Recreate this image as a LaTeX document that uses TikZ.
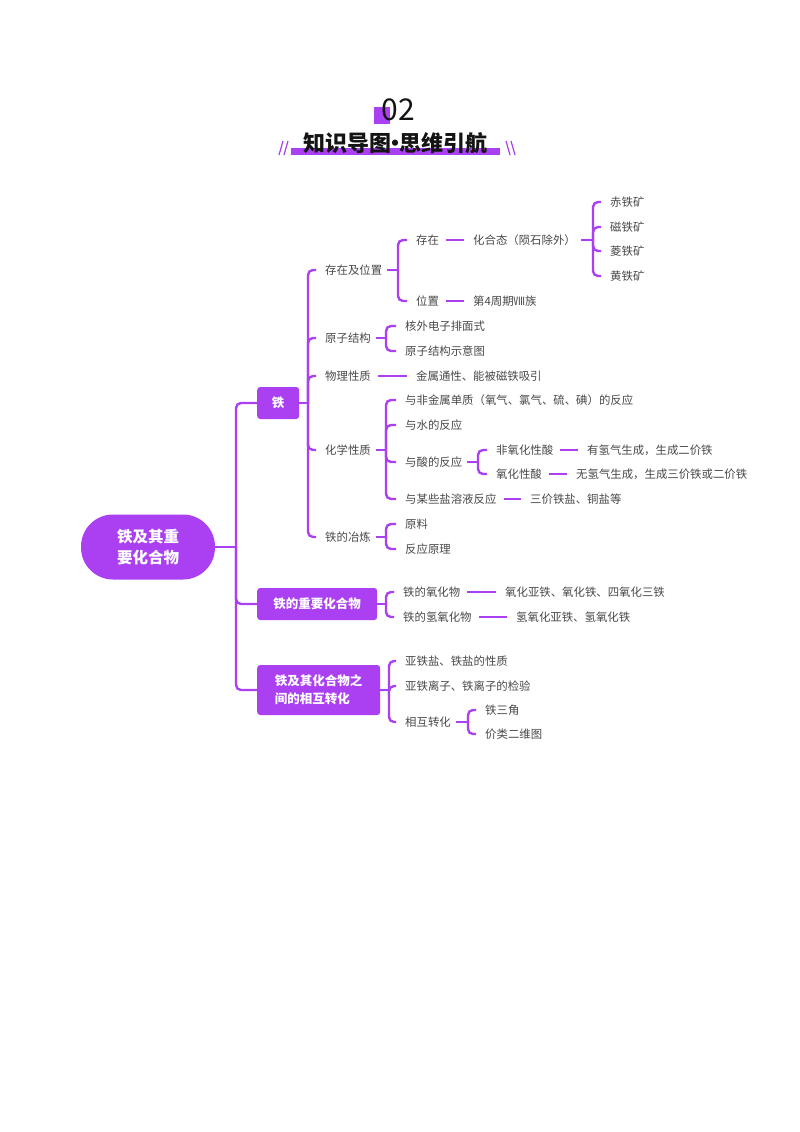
\documentclass[tikz,border=0pt]{standalone}
\usepackage{fontspec}
\setmainfont{Noto Sans CJK SC}
\usetikzlibrary{positioning}
\definecolor{brandcolor}{RGB}{170, 64, 242}
\definecolor{labelcolor}{RGB}{72, 72, 72}
\definecolor{titlecolor}{RGB}{20, 20, 20}
\tikzset{
rootblock/.style={
  fill=brandcolor,
  rounded corners=32pt,
  minimum width=134pt,
  minimum height=65pt,
  text=white,
  align=center,
  font=\fontsize{15.5}{21}\selectfont\bfseries
},
topicblock/.style={
  fill=brandcolor,
  rounded corners=3pt,
  anchor=west,
  minimum height=32pt,
  text=white,
  align=left,
  font=\fontsize{12.5}{18}\selectfont\bfseries
},
leaf/.style={
  anchor=west,
  inner xsep=5pt,
  inner ysep=2pt,
  text=labelcolor,
  font=\fontsize{11.4}{13}\selectfont
},
branch/.style={
  draw=brandcolor,
  line width=2.4pt,
  rounded corners=5pt
},
fork/.style={
  branch,
  shorten >=4pt
},
tie/.style={
  draw=brandcolor,
  line width=2.4pt,
  shorten <=2pt,
  shorten >=4pt
},
slash/.style={
  draw=brandcolor,
  line width=1.2pt
}
}

\begin{document}
\begin{tikzpicture}[x=1pt, y=-1pt]
  \useasboundingbox (0,0) rectangle (800,1132);

  % Heading
  \fill[brandcolor] (374,107) rectangle (390,124);
  \node[font=\fontsize{30}{30}\selectfont, text=titlecolor] (num) at (398,110) {02};
  \fill[brandcolor] (291,148) rectangle (500,155);
  \node[font=\fontsize{22}{22}\selectfont\bfseries, text=titlecolor] (heading) at (395,143)
    {知识导图\hspace{-7pt}·\hspace{-7pt}思维引航};
  \draw[slash] (279,155) -- (283,141) (284,155) -- (288,141);
  \draw[slash] (506,141) -- (510,155) (511,141) -- (515,155);

  % Root and main topics
  \node[rootblock] (root) at (148,547) {铁及其重\\要化合物};
  \node[topicblock, minimum width=42pt] (fe) at (257,403) {铁};
  \node[topicblock, minimum width=120pt] (cmpd) at (257,604) {铁的重要化合物};
  \node[topicblock, minimum width=123pt, minimum height=50pt] (conv) at (257,690) {铁及其化合物之\\间的相互转化};

  \coordinate (trunk) at (236,547);
  \draw[branch] (root.east) -- (trunk);
  \draw[branch] (trunk) |- (fe.west);
  \draw[branch] (trunk) |- (cmpd.west);
  \draw[branch] (trunk) |- (conv.west);

  % Iron
  \node[leaf] (exist) at (320,270) {存在及位置};
  \node[leaf] (atom) at (320,338) {原子结构};
  \node[leaf] (phys) at (320,376) {物理性质};
  \node[leaf] (chem) at (320,450) {化学性质};
  \node[leaf] (smelt) at (320,537) {铁的冶炼};

  \coordinate (fe-b) at (308,403);
  \draw[branch] (fe.east) -- (fe-b);
  \foreach \n in {exist, atom, phys, chem, smelt}
    \draw[fork] (fe-b) |- (\n.west);

  % Occurrence and position
  \node[leaf] (occur) at (411,240) {存在};
  \node[leaf] (place) at (411,301) {位置};
  \coordinate (exist-b) at (398,270);
  \draw[branch] (exist.east) -- (exist-b);
  \draw[fork] (exist-b) |- (occur.west);
  \draw[fork] (exist-b) |- (place.west);

  \node[leaf] (combined) at (468,240) {化合态（陨石除外）};
  \node[leaf] (period) at (468,301) {第4周期Ⅷ族};
  \draw[tie] (occur) -- (combined);
  \draw[tie] (place) -- (period);

  \node[leaf] (ore1) at (605,202) {赤铁矿};
  \node[leaf] (ore2) at (605,227) {磁铁矿};
  \node[leaf] (ore3) at (605,251) {菱铁矿};
  \node[leaf] (ore4) at (605,276) {黄铁矿};
  \coordinate (combined-b) at (593,240);
  \draw[branch] (combined.east) -- (combined-b);
  \foreach \n in {ore1, ore2, ore3, ore4}
    \draw[fork] (combined-b) |- (\n.west);

  % Atomic structure
  \node[leaf] (shell) at (400,326) {核外电子排面式};
  \node[leaf] (sketch) at (400,351) {原子结构示意图};
  \coordinate (atom-b) at (386,338);
  \draw[branch] (atom.east) -- (atom-b);
  \draw[fork] (atom-b) |- (shell.west);
  \draw[fork] (atom-b) |- (sketch.west);

  % Physical properties
  \node[leaf] (metal) at (411,376) {金属通性、能被磁铁吸引};
  \draw[tie] (phys) -- (metal);

  % Chemical properties
  \node[leaf] (nonmetal) at (400,400) {与非金属单质（氧气、氯气、硫、碘）的反应};
  \node[leaf] (water) at (400,425) {与水的反应};
  \node[leaf] (acid) at (400,462) {与酸的反应};
  \node[leaf] (salt) at (400,499) {与某些盐溶液反应};
  \coordinate (chem-b) at (386,450);
  \draw[branch] (chem.east) -- (chem-b);
  \foreach \n in {nonmetal, water, acid, salt}
    \draw[fork] (chem-b) |- (\n.west);

  \node[leaf] (nonox) at (491,450) {非氧化性酸};
  \node[leaf] (ox) at (491,474) {氧化性酸};
  \coordinate (acid-b) at (478,462);
  \draw[branch] (acid.east) -- (acid-b);
  \draw[fork] (acid-b) |- (nonox.west);
  \draw[fork] (acid-b) |- (ox.west);

  \node[leaf] (nonox-r) at (582,450) {有氢气生成，生成二价铁};
  \node[leaf] (ox-r) at (571,474) {无氢气生成，生成三价铁或二价铁};
  \node[leaf] (salt-r) at (525,499) {三价铁盐、铜盐等};
  \draw[tie] (nonox) -- (nonox-r);
  \draw[tie] (ox) -- (ox-r);
  \draw[tie] (salt) -- (salt-r);

  % Smelting
  \node[leaf] (ore) at (400,524) {原料};
  \node[leaf] (principle) at (400,549) {反应原理};
  \coordinate (smelt-b) at (386,537);
  \draw[branch] (smelt.east) -- (smelt-b);
  \draw[fork] (smelt-b) |- (ore.west);
  \draw[fork] (smelt-b) |- (principle.west);

  % Important compounds
  \node[leaf] (oxide) at (398,592) {铁的氧化物};
  \node[leaf] (hydrox) at (398,617) {铁的氢氧化物};
  \coordinate (cmpd-b) at (386,604);
  \draw[branch] (cmpd.east) -- (cmpd-b);
  \draw[fork] (cmpd-b) |- (oxide.west);
  \draw[fork] (cmpd-b) |- (hydrox.west);

  \node[leaf] (oxide-r) at (500,592) {氧化亚铁、氧化铁、四氧化三铁};
  \node[leaf] (hydrox-r) at (511,617) {氢氧化亚铁、氢氧化铁};
  \draw[tie] (oxide) -- (oxide-r);
  \draw[tie] (hydrox) -- (hydrox-r);

  % Interconversion
  \node[leaf] (prop) at (400,661) {亚铁盐、铁盐的性质};
  \node[leaf] (test) at (400,686) {亚铁离子、铁离子的检验};
  \node[leaf] (mutual) at (400,722) {相互转化};
  \coordinate (conv-b) at (389,690);
  \draw[branch] (conv.east) -- (conv-b);
  \foreach \n in {prop, test, mutual}
    \draw[fork] (conv-b) |- (\n.west);

  \node[leaf] (triangle) at (480,710) {铁三角};
  \node[leaf] (valence) at (480,734) {价类二维图};
  \coordinate (mutual-b) at (468,722);
  \draw[branch] (mutual.east) -- (mutual-b);
  \draw[fork] (mutual-b) |- (triangle.west);
  \draw[fork] (mutual-b) |- (valence.west);
\end{tikzpicture}
\end{document}
